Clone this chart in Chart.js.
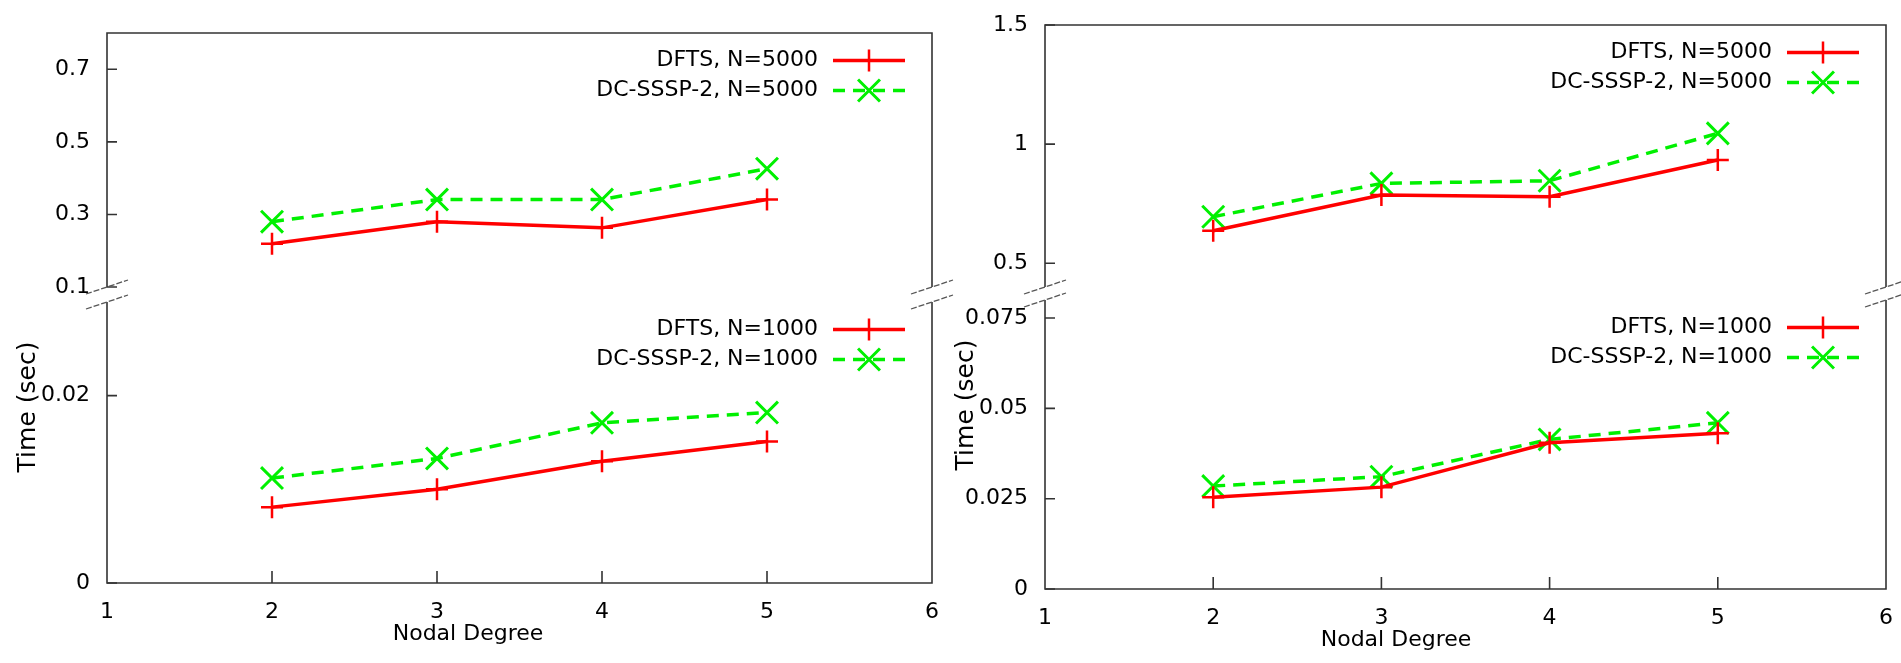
<!DOCTYPE html>
<html><head><meta charset="utf-8">
<script src="https://cdn.jsdelivr.net/npm/chart.js@4.4.0/dist/chart.umd.min.js"></script>
<style>
html,body{margin:0;padding:0;background:#fff;overflow:hidden;width:1901px;height:663px;position:relative}
canvas{position:absolute}
</style>
</head><body>
<script>
// ---------- data ----------
const degrees = [2, 3, 4, 5];
const xTickValues = [1, 2, 3, 4, 5, 6];

const dftsN5000Left  = [0.219, 0.280, 0.263, 0.341];
const dcN5000Left    = [0.280, 0.341, 0.341, 0.426];
const dftsN1000Left  = [0.0081, 0.0100, 0.0130, 0.0151];
const dcN1000Left    = [0.0112, 0.0133, 0.0171, 0.0182];

const dftsN5000Right = [0.636, 0.786, 0.779, 0.933];
const dcN5000Right   = [0.695, 0.835, 0.846, 1.045];
const dftsN1000Right = [0.0254, 0.0282, 0.0405, 0.0431];
const dcN1000Right   = [0.0285, 0.0311, 0.0414, 0.0460];

const leftTopTicks     = [0.1, 0.3, 0.5, 0.7];
const leftBottomTicks  = [0, 0.02];
const rightTopTicks    = [0.5, 1, 1.5];
const rightBottomTicks = [0, 0.025, 0.05, 0.075];

const labelsN5000 = ['DFTS, N=5000', 'DC-SSSP-2, N=5000'];
const labelsN1000 = ['DFTS, N=1000', 'DC-SSSP-2, N=1000'];
const xTitle = 'Nodal Degree';
const yTitle = 'Time (sec)';

// ---------- layout / style ----------
const FONT = '"DejaVu Sans", sans-serif';
const RED = '#ff0000';
const GREEN = '#00f000';
const Y_AXIS_W = 110, PAD_R = 30, PAD_T = 20, PAD_B_TOP = 20, X_AXIS_H = 70;

const panels = [
  {box:[107, 33, 932, 287],   yMin:0.1, yMax:0.8,  ticks:leftTopTicks,     s:[dftsN5000Left, dcN5000Left],   labels:labelsN5000, bottom:false},
  {box:[107, 302, 932, 583],  yMin:0,   yMax:0.03, ticks:leftBottomTicks,  s:[dftsN1000Left, dcN1000Left],   labels:labelsN1000, bottom:true, xTitleDx:361},
  {box:[1045, 25, 1886, 287], yMin:0.4, yMax:1.5,  ticks:rightTopTicks,    s:[dftsN5000Right, dcN5000Right], labels:labelsN5000, bottom:false},
  {box:[1045, 300, 1886, 589],yMin:0,   yMax:0.08, ticks:rightBottomTicks, s:[dftsN1000Right, dcN1000Right], labels:labelsN1000, bottom:true, xTitleDx:351}
];

function drawMarker(ctx, style, x, y, r){
  ctx.beginPath();
  if(style === 'cross'){
    ctx.moveTo(x - r, y); ctx.lineTo(x + r, y);
    ctx.moveTo(x, y - r); ctx.lineTo(x, y + r);
  } else {
    const d = r * Math.SQRT1_2;
    ctx.moveTo(x - d, y - d); ctx.lineTo(x + d, y + d);
    ctx.moveTo(x - d, y + d); ctx.lineTo(x + d, y - d);
  }
  ctx.stroke();
}

const framePlugin = {
  id: 'frame',
  afterDatasetsDraw(chart, args, opts){
    const {ctx, chartArea:a, scales} = chart;
    ctx.save();
    ctx.strokeStyle = '#333'; ctx.lineWidth = 1.6; ctx.setLineDash([]);
    ctx.beginPath();
    if(opts.bottom){
      ctx.moveTo(a.left, a.top); ctx.lineTo(a.left, a.bottom); ctx.lineTo(a.right, a.bottom); ctx.lineTo(a.right, a.top);
    } else {
      ctx.moveTo(a.left, a.bottom); ctx.lineTo(a.left, a.top); ctx.lineTo(a.right, a.top); ctx.lineTo(a.right, a.bottom);
    }
    ctx.stroke();
    ctx.beginPath();
    scales.y.ticks.forEach(t => {
      const y = scales.y.getPixelForValue(t.value);
      ctx.moveTo(a.left, y); ctx.lineTo(a.left + 10, y);
    });
    if(opts.bottom){
      xTickValues.forEach(v => {
        const x = scales.x.getPixelForValue(v);
        if(x > a.left + 2 && x < a.right - 2){ ctx.moveTo(x, a.bottom); ctx.lineTo(x, a.bottom - 12); }
      });
    }
    ctx.stroke();
    // axis break marks
    ctx.strokeStyle = '#555'; ctx.lineWidth = 1.3; ctx.setLineDash([6, 2]);
    const yb = opts.bottom ? a.top : a.bottom;
    [a.left, a.right].forEach(x => {
      ctx.beginPath(); ctx.moveTo(x - 21, yb + 7); ctx.lineTo(x + 21, yb - 7); ctx.stroke();
    });
    ctx.restore();
  },
  afterDraw(chart, args, opts){
    const {ctx, chartArea:a} = chart;
    ctx.save();
    // key
    chart.data.datasets.forEach((ds, i) => {
      const y = a.top + 27.5 + i * 30;
      ctx.font = '22px ' + FONT; ctx.fillStyle = '#000';
      ctx.textAlign = 'right'; ctx.textBaseline = 'middle';
      ctx.fillText(ds.label, a.right - 114, y);
      ctx.strokeStyle = ds.borderColor; ctx.lineWidth = ds.borderWidth;
      ctx.setLineDash(ds.borderDash || []);
      ctx.beginPath(); ctx.moveTo(a.right - 99, y); ctx.lineTo(a.right - 27, y); ctx.stroke();
      ctx.setLineDash([]); ctx.lineWidth = ds.pointBorderWidth;
      drawMarker(ctx, ds.pointStyle, a.right - 63, y, ds.pointRadius);
    });
    if(opts.bottom){
      ctx.font = '22px ' + FONT; ctx.fillStyle = '#000';
      ctx.textAlign = 'center'; ctx.textBaseline = 'middle';
      ctx.fillText(xTitle, a.left + opts.xTitleDx, a.bottom + 51);
      ctx.translate(a.left - 79, a.top + 105);
      ctx.rotate(-Math.PI / 2);
      ctx.font = '25px ' + FONT;
      ctx.fillText(yTitle, 0, 0);
    }
    ctx.restore();
  }
};

panels.forEach(p => {
  const [x0, y0, x1, y1] = p.box;
  const padB = p.bottom ? 0 : PAD_B_TOP;
  const W = (x1 - x0) + Y_AXIS_W + PAD_R;
  const H = (y1 - y0) + PAD_T + padB + (p.bottom ? X_AXIS_H : 0);
  const cv = document.createElement('canvas');
  cv.width = W; cv.height = H;
  cv.style.left = (x0 - Y_AXIS_W) + 'px'; cv.style.top = (y0 - PAD_T) + 'px';
  cv.style.width = W + 'px'; cv.style.height = H + 'px';
  document.body.appendChild(cv);

  const mk = (vals) => degrees.map((d, i) => ({x: d, y: vals[i]}));
  new Chart(cv.getContext('2d'), {
    type: 'line',
    data: {
      datasets: [
        {label: p.labels[0], data: mk(p.s[0]), borderColor: RED, backgroundColor: RED, borderWidth: 3.5,
         pointStyle: 'cross', pointRadius: 11, pointBorderWidth: 2.5, pointHoverRadius: 11, fill: false, tension: 0},
        {label: p.labels[1], data: mk(p.s[1]), borderColor: GREEN, backgroundColor: GREEN, borderWidth: 3.5, borderDash: [12, 8],
         pointStyle: 'crossRot', pointRadius: 15.5, pointBorderWidth: 3, pointHoverRadius: 15.5, fill: false, tension: 0}
      ]
    },
    options: {
      responsive: false, animation: false, devicePixelRatio: 1, events: [],
      layout: {padding: {left: 0, top: PAD_T, right: PAD_R, bottom: padB}},
      plugins: {legend: {display: false}, tooltip: {enabled: false}, title: {display: false},
                frame: {bottom: p.bottom, xTitleDx: p.xTitleDx}},
      scales: {
        x: {
          type: 'linear', min: 1, max: 6, display: p.bottom,
          grid: {display: false, drawTicks: false}, border: {display: false},
          afterBuildTicks: s => { s.ticks = xTickValues.map(v => ({value: v})); },
          afterFit: s => { s.height = p.bottom ? X_AXIS_H : 0; s.paddingLeft = 0; s.paddingRight = 0; s.paddingTop = 0; s.paddingBottom = 0; },
          ticks: {padding: 16, color: '#000', font: {family: FONT, size: 22}, callback: v => String(v), maxRotation: 0, autoSkip: false}
        },
        y: {
          type: 'linear', min: p.yMin, max: p.yMax,
          grid: {display: false, drawTicks: false}, border: {display: false},
          afterBuildTicks: s => { s.ticks = p.ticks.map(v => ({value: v})); },
          afterFit: s => { s.width = Y_AXIS_W; s.paddingTop = 0; s.paddingBottom = 0; s.paddingLeft = 0; s.paddingRight = 0; },
          ticks: {padding: 17, color: '#000', font: {family: FONT, size: 22}, callback: v => String(v), autoSkip: false}
        }
      }
    },
    plugins: [framePlugin]
  });
});
</script>
</body></html>
